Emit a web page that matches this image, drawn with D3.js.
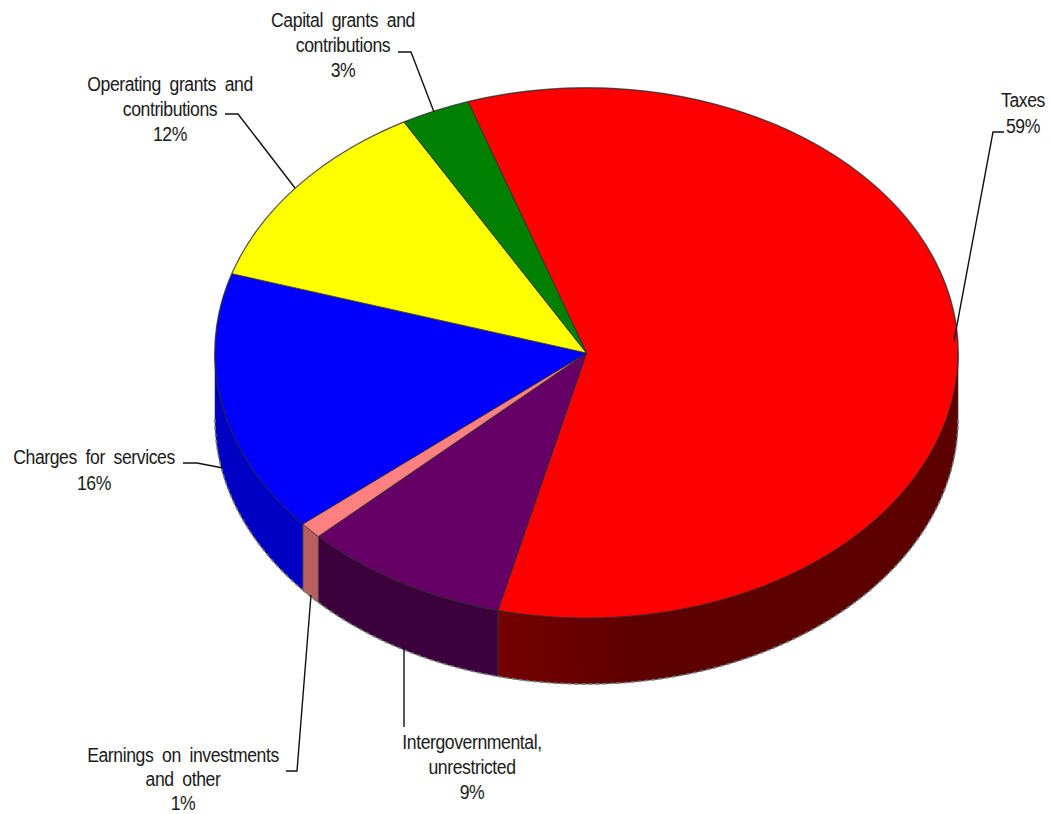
<!DOCTYPE html>
<html>
<head>
<meta charset="utf-8">
<script src="https://cdn.jsdelivr.net/npm/d3@7"></script>
<style>
  html, body { margin: 0; padding: 0; background: #fff; }
  svg { display: block; }
  text { font-family: "Liberation Sans", Arial, sans-serif; font-size: 21px; fill: #1a1a1a; letter-spacing: -0.5px; word-spacing: 5px; text-anchor: middle; }
</style>
</head>
<body>
<svg id="chart" width="1052" height="814"></svg>
<script>
// Revenue shares, listed clockwise from the Taxes slice
const categories = ["Taxes", "Intergovernmental, unrestricted", "Earnings on investments and other", "Charges for services", "Operating grants and contributions", "Capital grants and contributions"];
const shares = [59, 9, 1, 16, 12, 3];
const labelLines = [
  ["Taxes"],
  ["Intergovernmental,", "unrestricted"],
  ["Earnings on investments", "and other"],
  ["Charges for services"],
  ["Operating grants and", "contributions"],
  ["Capital grants and", "contributions"]
];

// Slice and wall fills, in category order
const topColors = ["#ff0000", "#660066", "#ff8080", "#0000ff", "#ffff00", "#008000"];
const wallColors = ["url(#redWall)", "#3c003c", "#b86060", "#0000c4", "#999900", "#004d00"];

// Label placement: text centre, first baseline, line spacing, leader polyline
const labelLayout = [
  { x: 1023, y: 107, step: 26, leader: [[1004, 132], [993, 132], [954, 341]] },
  { x: 472, y: 749, step: 25, leader: [[404, 647], [404, 727]] },
  { x: 183, y: 762, step: 24, leader: [[286, 771], [297, 771], [311, 595]] },
  { x: 94, y: 464, step: 26, leader: [[183, 463], [197, 463], [223, 468]] },
  { x: 170, y: 91, step: 25, leader: [[225, 114], [238, 114], [295, 188]] },
  { x: 343, y: 27, step: 25, leader: [[398, 52], [411, 52], [434, 112]] }
];

const svg = d3.select("#chart");

// Horizontal shading along the red outer wall
const redWall = svg.append("defs").append("linearGradient")
  .attr("id", "redWall")
  .attr("gradientUnits", "userSpaceOnUse")
  .attr("x1", 502).attr("x2", 650).attr("y1", 0).attr("y2", 0);
redWall.append("stop").attr("offset", 0).attr("stop-color", "#740000");
redWall.append("stop").attr("offset", 1).attr("stop-color", "#5c0000");

// The tilted disc: unit circle coordinates mapped onto an ellipse
const xScale = d3.scaleLinear().domain([-1, 1]).range([215, 958]);
const yScale = d3.scaleLinear().domain([-1, 1]).range([88, 618]);
const depth = 66;

const startAngle = -18.6 * Math.PI / 180;
const pie = d3.pie().sort(null).value(d => d)
  .startAngle(startAngle).endAngle(startAngle + 2 * Math.PI);
const slices = pie(shares);

const rimX = a => xScale(Math.sin(a));
const rimY = a => yScale(-Math.cos(a));
const rimSamples = (a0, a1) => d3.range(0, 121).map(i => a0 + (a1 - a0) * i / 120);

const pathFrom = d3.line();

// Soft grey outline around the back of the disc
svg.append("path")
  .attr("d", pathFrom(rimSamples(0, 2 * Math.PI).map(a => [rimX(a), rimY(a)])) + "Z")
  .attr("fill", "none")
  .attr("stroke", "#888")
  .attr("stroke-width", 2);

// Outer walls: only the part of each slice facing the viewer (bottom half of the ellipse)
const wallGroup = svg.append("g");
const edgeGroup = svg.append("g");
slices.forEach((s, i) => {
  const lo = Math.max(s.startAngle, Math.PI / 2);
  const hi = Math.min(s.endAngle, 3 * Math.PI / 2);
  if (hi <= lo) return;
  const arc = rimSamples(lo, hi);
  const upper = arc.map(a => [rimX(a), rimY(a)]);
  const lower = arc.slice().reverse().map(a => [rimX(a), rimY(a) + depth]);
  wallGroup.append("path")
    .attr("d", pathFrom(upper.concat(lower)) + "Z")
    .attr("fill", wallColors[i])
    .attr("stroke", "#333")
    .attr("stroke-width", 0.6)
    .attr("stroke-linejoin", "round");
  // Stepped grey fringe along the bottom rim of the wall
  edgeGroup.append("path")
    .attr("d", pathFrom(lower))
    .attr("fill", "none")
    .attr("stroke", "#777")
    .attr("stroke-width", 1.6)
    .attr("stroke-dasharray", "4 3");
});

// Top faces of the slices
const topGroup = svg.append("g");
slices.forEach((s, i) => {
  const pts = [[xScale(0), yScale(0)]].concat(
    rimSamples(s.startAngle, s.endAngle).map(a => [rimX(a), rimY(a)])
  );
  topGroup.append("path")
    .attr("d", pathFrom(pts) + "Z")
    .attr("fill", topColors[i])
    .attr("stroke", "#2a2a2a")
    .attr("stroke-width", 0.8)
    .attr("stroke-linejoin", "round");
});

// Leader lines
svg.append("g").selectAll("path")
  .data(labelLayout)
  .join("path")
  .attr("d", d => pathFrom(d.leader))
  .attr("fill", "none")
  .attr("stroke", "#111")
  .attr("stroke-width", 1.4);

// Category labels with their percentage on the last line
const labels = svg.append("g").selectAll("text")
  .data(categories)
  .join("text")
  .attr("transform", (d, i) => `translate(${labelLayout[i].x},${labelLayout[i].y}) scale(0.84,1)`);
labels.selectAll("tspan")
  .data((d, i) => labelLines[i].concat(shares[i] + "%").map(line => ({ line, step: labelLayout[i].step })))
  .join("tspan")
  .attr("x", 0)
  .attr("y", (d, j) => j * d.step)
  .text(d => d.line);
</script>
</body>
</html>
